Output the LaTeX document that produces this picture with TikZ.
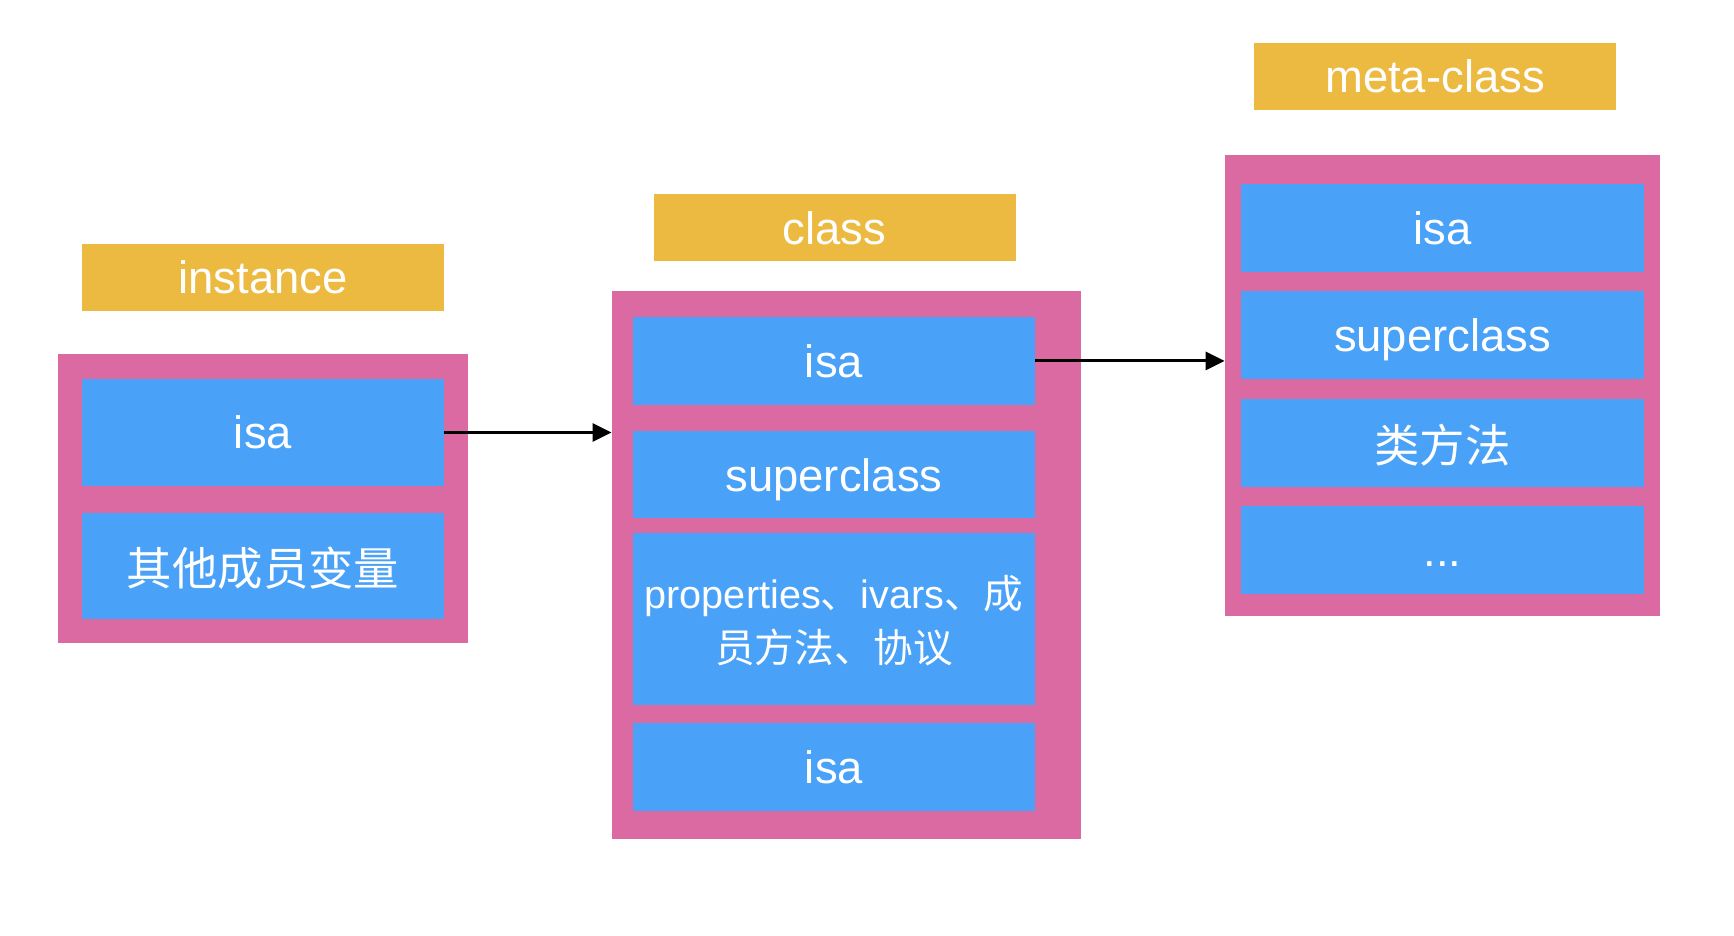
\documentclass[tikz,border=0pt]{standalone}
\usepackage{fontspec}
\setmainfont{Liberation Sans}
\newfontfamily\cjk{Noto Sans CJK SC}
\usetikzlibrary{arrows.meta}
\definecolor{labelyellow}{RGB}{236,186,64}
\definecolor{framepink}{RGB}{219,106,163}
\definecolor{slotblue}{RGB}{74,161,248}
\tikzset{
  namebox/.style={fill=labelyellow, text=white, inner sep=0pt, minimum width=181pt, minimum height=33.5pt, text depth=0pt, font=\fontsize{22.7}{27}\selectfont},
  outerbox/.style={fill=framepink, inner sep=0pt},
  slot/.style={fill=slotblue, text=white, inner sep=0pt, minimum height=43.75pt, text depth=0pt, align=center, font=\fontsize{22.7}{27}\selectfont},
  ptr/.style={-{Triangle[length=9.5pt,width=9pt]}, line width=1.5pt}
}
\begin{document}
\begin{tikzpicture}[x=0.5pt,y=-0.5pt]
\useasboundingbox (0,0) rectangle (1734,936);

\node[namebox] (ilabel) at (263,277.5) {instance};
\node[outerbox, minimum width=205pt, minimum height=144.5pt] (ibox) at (263,498.5) {};
\node[slot, minimum width=181pt, minimum height=53.5pt] (iisa) at (263,432.5) {isa};
\node[slot, minimum width=181pt, minimum height=53pt] (iother) at (263,566) {\cjk 其他成员变量};

\node[namebox] (clabel) at (834.5,227.7) {class};
\node[outerbox, minimum width=234.5pt, minimum height=274.2pt] (cbox) at (846.5,565.2) {};
\node[slot, minimum width=201pt] (cisa) at (834,360.9) {isa};
\node[slot, minimum width=201pt] (csuper) at (834,474.6) {superclass};
\node[slot, minimum width=201pt, minimum height=86.25pt, font=\fontsize{19.8}{27}\selectfont] (cprops) at (834,619) {properties{\cjk 、}ivars{\cjk 、成}\\{\cjk 员方法、协议}};
\node[slot, minimum width=201pt] (cisab) at (834,767) {isa};

\node[namebox] (mlabel) at (1435,76.3) {meta-class};
\node[outerbox, minimum width=217.5pt, minimum height=230.8pt] (mbox) at (1442.5,385.6) {};
\node[slot, minimum width=201.5pt] (misa) at (1442.5,227.9) {isa};
\node[slot, minimum width=201.5pt] (msuper) at (1442.5,334.8) {superclass};
\node[slot, minimum width=201.5pt] (mmethods) at (1442.5,443.1) {\cjk 类方法};
\node[slot, minimum width=201.5pt] (mmore) at (1442.5,550) {\vphantom{isa}...};

\draw[ptr] (iisa.east) -- (iisa.east -| cbox.west);
\draw[ptr] (cisa.east) -- (cisa.east -| mbox.west);
\end{tikzpicture}
\end{document}
